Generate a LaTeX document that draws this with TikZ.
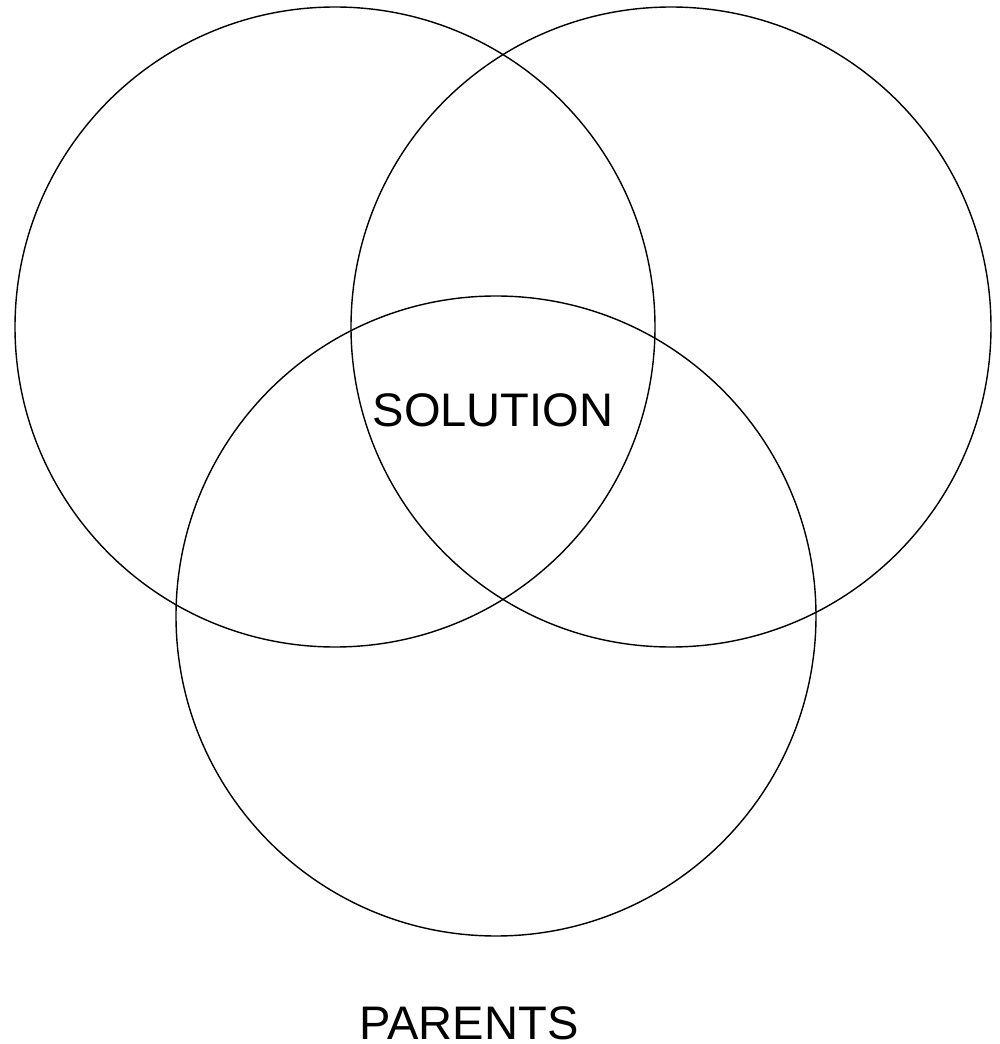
\documentclass[tikz,border=0pt]{standalone}
\usepackage{fontspec}
\setmainfont{Liberation Sans}
\begin{document}
\begin{tikzpicture}[scale = 1]

        \useasboundingbox (0, 0) rectangle (10, 10.44);

        \draw[black, line width = 0.4pt] (3.35, 7.17) circle (3.2);
        \draw[black, line width = 0.4pt] (6.71, 7.17) circle (3.2);
        \draw[black, line width = 0.4pt] (4.96, 4.28) circle (3.2);

        \node[anchor = base, inner sep = 0, font = \fontsize{13.4}{16}\selectfont] (solution) at (4.93, 6.17) {SOLUTION};
        \node[anchor = base, inner sep = 0, font = \fontsize{13.4}{16}\selectfont] (parents) at (4.69, 0.05) {PARENTS};

    \end{tikzpicture}
\end{document}
